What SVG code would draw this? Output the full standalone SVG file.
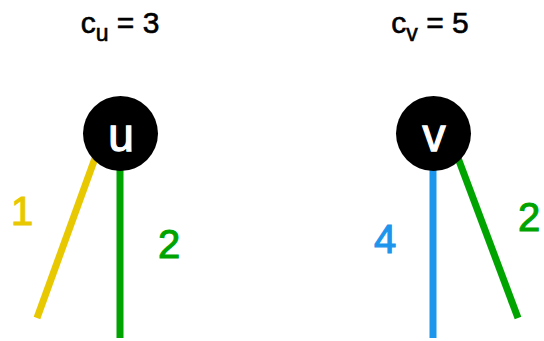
<svg xmlns="http://www.w3.org/2000/svg" width="544" height="341" viewBox="0 0 544 341">
<style>
.t{font-family:"Liberation Sans",Arial,sans-serif;fill:#000;stroke:#000;stroke-width:0.6;font-size:30px;text-anchor:middle}
.lbl{font-family:"Liberation Sans",Arial,sans-serif;font-size:40px;stroke-width:1.1;text-anchor:middle}
.nl{font-family:"Liberation Sans",Arial,sans-serif;font-size:46px;fill:#fff;stroke:#fff;stroke-width:1.3;text-anchor:middle}
.e{stroke-width:7;fill:none;stroke-linecap:butt}
</style>
<rect width="544" height="341" fill="#fff"/>
<g id="connectors">
<line class="e" x1="98" y1="150" x2="37" y2="318" stroke="#E8C800"/>
<line class="e" x1="120" y1="150" x2="120" y2="338" stroke="#00A400"/>
<line class="e" x1="433" y1="150" x2="433" y2="338" stroke="#1C95EC"/>
<line class="e" x1="455" y1="150" x2="518" y2="318" stroke="#00A400"/>
<text class="lbl" x="22" y="225" fill="#E8C800" stroke="#E8C800">1</text>
<text class="lbl" x="169" y="258" fill="#00A400" stroke="#00A400">2</text>
<text class="lbl" x="385" y="253" fill="#1C95EC" stroke="#1C95EC">4</text>
<text class="lbl" x="529" y="231" fill="#00A400" stroke="#00A400">2</text>
</g>
<g id="node-u">
<circle cx="120.5" cy="133.5" r="37.5" fill="#000"/>
<text class="nl" x="121" y="151">u</text>
<text class="t" x="120" y="33">c<tspan dy="8" font-size="23">u</tspan><tspan dy="-8"> = 3</tspan></text>
</g>
<g id="node-v">
<circle cx="433.5" cy="133.5" r="37.5" fill="#000"/>
<text class="nl" x="434" y="151">v</text>
<text class="t" x="430" y="33">c<tspan dy="8" font-size="23">v</tspan><tspan dy="-8"> = 5</tspan></text>
</g>
</svg>
